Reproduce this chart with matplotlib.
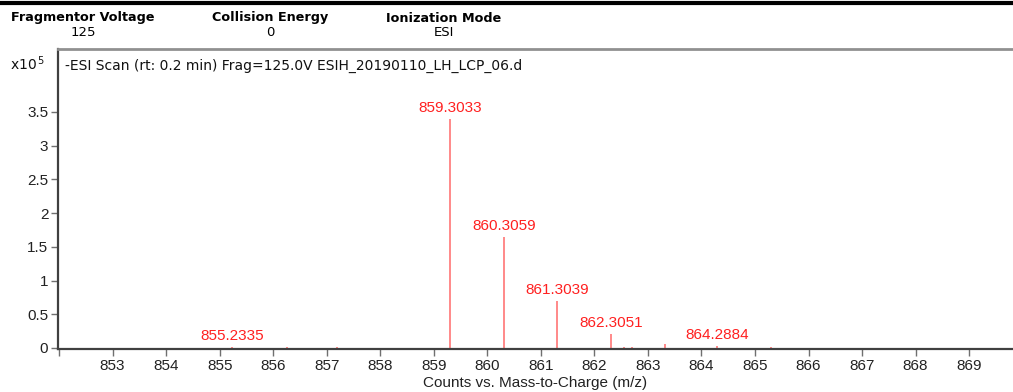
"""
plot.py - MS scan (-ESI) stick spectrum, Agilent style.
"""
import numpy as np
import matplotlib; matplotlib.use('Agg')
import matplotlib.pyplot as plt
from matplotlib.lines import Line2D

# peak list (m/z, counts x1e5)
mz = [855.2335, 856.25, 857.20, 859.3033, 860.3059, 861.3039, 862.3051,
      862.55, 862.70, 863.31, 864.2884, 865.30]
counts = [0.015, 0.010, 0.008, 3.39, 1.65, 0.70, 0.21,
          0.020, 0.015, 0.055, 0.030, 0.008]
labelled = [855.2335, 859.3033, 860.3059, 861.3039, 862.3051, 864.2884]

header_names = ['Fragmentor Voltage', 'Collision Energy', 'Ionization Mode']
header_values = ['125', '0', 'ESI']
header_x = [83, 270, 444]

title = '-ESI Scan (rt: 0.2 min) Frag=125.0V ESIH_20190110_LH_LCP_06.d'
xticks = list(range(852, 870))

W, H = 1013, 392
fig = plt.figure(figsize=(W/100, H/100), dpi=100)
ax = fig.add_axes([58/W, 1-349/H, 1-58/W, 300/H])

sans = 'Liberation Sans'
red = '#ff2020'

ax.vlines(mz, 0, counts, color='#ff6a6a', lw=1.1)
for m, c in zip(mz, counts):
    if m in labelled:
        ax.annotate(f'{m:.4f}', (m, c), xytext=(0, 3), textcoords='offset points',
                    ha='center', va='bottom', color=red, fontsize=11, family=sans)

ax.set_xlim(851.98, 869.82)
ax.set_ylim(-0.015, 4.434)
ax.set_xticks(xticks)
ax.set_xticklabels([''] + [str(v) for v in xticks[1:]])
ax.set_yticks(np.arange(0, 3.51, 0.5))
ax.set_yticklabels(['%g' % v for v in np.arange(0, 3.51, 0.5)])
ax.tick_params(direction='out', length=5, width=1, color='#707070',
               labelsize=11, labelcolor='#222222', pad=2)
for lab in ax.get_xticklabels() + ax.get_yticklabels():
    lab.set_family(sans)

ax.spines['right'].set_visible(False)
for s in ['left', 'bottom']:
    ax.spines[s].set_color('#404040'); ax.spines[s].set_linewidth(1.6)
ax.spines['top'].set_color('#909090'); ax.spines['top'].set_linewidth(2)

ax.text(7/955, 0.945, title, transform=ax.transAxes, ha='left', va='center',
        fontsize=10, family='DejaVu Sans', color='#111111')
ax.set_xlabel('Counts vs. Mass-to-Charge (m/z)', fontsize=11, family=sans,
              color='#222222', labelpad=2)

fig.text(10/W, 1-64/H, r'x10$^{\,5}$', ha='left', va='center', fontsize=10,
         family='DejaVu Sans', color='#111111')

# header block
fig.add_artist(Line2D([0, 1], [1-3/H, 1-3/H], color='black', lw=3))
for name, val, x in zip(header_names, header_values, header_x):
    fig.text(x/W, 1-18/H, name, ha='center', va='center', fontsize=9.2,
             fontweight='bold', family='DejaVu Sans')
    fig.text(x/W, 1-33/H, val, ha='center', va='center', fontsize=9.5,
             family='DejaVu Sans')

fig.savefig('out.png', dpi=100)
